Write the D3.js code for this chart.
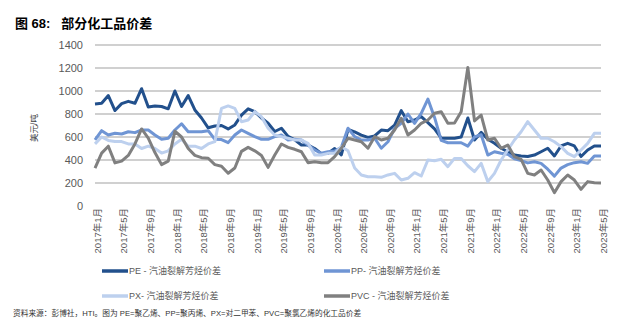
<!DOCTYPE html>
<html>
<head>
<meta charset="utf-8">
<script src="https://cdn.jsdelivr.net/npm/d3@7"></script>
<style>
  html, body { margin: 0; padding: 0; background: #fff; }
  svg { display: block; }
  text { font-family: "Liberation Sans", "Noto Sans CJK SC", sans-serif; }
</style>
</head>
<body>
<svg id="chart" width="626" height="335"></svg>
<script>
// Monthly spreads, USD/ton, Jan 2017 – May 2023
const months = d3.timeMonth.range(new Date(2017, 0, 1), new Date(2023, 5, 1))
  .map(d => d3.timeFormat("%Y-%m")(d));

const pe = [887, 893, 960, 830, 890, 910, 893, 1020, 860, 870, 865, 845,
  1000, 865, 960, 835, 765, 680, 696, 700, 670, 705, 790, 845,
  820, 765, 720, 648, 676, 605, 575, 530, 530, 500, 455, 458,
  500, 445, 665, 645, 617, 597, 609, 660, 655, 704, 829, 733,
  748, 777, 725, 670, 590, 589, 589, 600, 765, 574, 640, 580,
  545, 502, 472, 443, 435, 430, 443, 472, 502, 435, 522, 545,
  522, 430, 487, 522, 522];

const pp = [574, 655, 617, 632, 626, 646, 638, 661, 661, 617, 580, 589,
  661, 715, 646, 646, 646, 655, 580, 578, 551, 617, 661, 632,
  603, 580, 580, 603, 617, 574, 580, 574, 530, 487, 458, 472,
  478, 510, 676, 603, 574, 574, 589, 502, 559, 676, 719, 800,
  719, 806, 930, 770, 570, 550, 550, 550, 520, 600, 620, 443,
  472, 458, 450, 410, 395, 375, 385, 371, 320, 260, 330, 360,
  377, 385, 371, 435, 435];

const px = [540, 600, 570, 560, 560, 540, 540, 500, 520, 500, 460, 480,
  540, 580, 520, 520, 500, 540, 560, 849, 870, 849, 733, 748,
  820, 777, 676, 617, 603, 589, 574, 574, 545, 443, 443, 458,
  458, 516, 480, 330, 270, 255, 255, 249, 270, 284, 226, 241,
  290, 261, 400, 394, 406, 342, 414, 414, 350, 299, 371, 212,
  284, 400, 487, 574, 646, 733, 661, 589, 589, 559, 516, 458,
  429, 487, 545, 632, 632];

const pvc = [330, 460, 520, 375, 390, 440, 540, 670, 590, 465, 360, 390,
  650, 600, 500, 440, 420, 415, 360, 345, 285, 330, 475, 510,
  480, 440, 336, 443, 539, 510, 493, 472, 377, 385, 377, 377,
  429, 502, 589, 574, 559, 502, 603, 574, 589, 661, 763, 617,
  661, 719, 748, 806, 820, 719, 722, 820, 1205, 740, 791, 574,
  589, 502, 530, 429, 406, 284, 270, 313, 226, 116, 212, 270,
  226, 145, 212, 203, 200];

const xTicks = ["2017-01", "2017-05", "2017-09", "2018-01", "2018-05", "2018-09",
  "2019-01", "2019-05", "2019-09", "2020-01", "2020-05", "2020-09",
  "2021-01", "2021-05", "2021-09", "2022-01", "2022-05", "2022-09",
  "2023-01", "2023-05"];
const yTicks = [0, 200, 400, 600, 800, 1000, 1200, 1400];

const series = [
  { name: "PE - 汽油裂解芳烃价差", values: pe, color: "#22508c" },
  { name: "PP- 汽油裂解芳烃价差", values: pp, color: "#6f95d4" },
  { name: "PX- 汽油裂解芳烃价差", values: px, color: "#bdd0ee" },
  { name: "PVC - 汽油裂解芳烃价差", values: pvc, color: "#808080" }
];

const svg = d3.select("#chart");
svg.append("rect").attr("width", 626).attr("height", 335).attr("fill", "#fff");

const x = d3.scalePoint().domain(months).range([95, 601]);
const y = d3.scaleLinear().domain([0, 1400]).range([206, 45]);

// Title
svg.append("text")
  .attr("x", 15).attr("y", 28)
  .style("white-space", "pre")
  .attr("font-size", 13).attr("font-weight", "bold").attr("fill", "#000")
  .text("图 68:   部分化工品价差");

// Horizontal gridlines
svg.append("g").selectAll("line")
  .data(yTicks.filter(v => v > 0))
  .join("line")
  .attr("x1", 95).attr("x2", 601)
  .attr("y1", d => y(d)).attr("y2", d => y(d))
  .attr("stroke", "#c0c0c0").attr("stroke-width", 1.6);

// Y axis labels
const yAxis = d3.axisLeft(y).tickValues(yTicks).tickSize(0).tickPadding(0)
  .tickFormat(d3.format("d"));
const gy = svg.append("g").attr("transform", "translate(83,0)").call(yAxis);
gy.select(".domain").remove();
gy.selectAll("text")
  .attr("font-size", 11).attr("fill", "#595959")
  .attr("font-family", "Liberation Sans, sans-serif");

// Y axis title
svg.append("text")
  .attr("transform", "translate(34,128) rotate(-90)")
  .attr("text-anchor", "middle").attr("dy", "0.35em")
  .attr("font-size", 8.5).attr("fill", "#404040")
  .text("美元/吨");

// X axis labels (vertical)
const fmtLabel = s => {
  const [yy, mm] = s.split("-");
  return `${yy}年${+mm}月`;
};
const xAxis = d3.axisBottom(x).tickValues(xTicks).tickSize(0).tickPadding(0).tickFormat(fmtLabel);
const gx = svg.append("g").attr("transform", "translate(2,208)").call(xAxis);
gx.select(".domain").remove();
gx.selectAll("text")
  .attr("font-size", 9.5).attr("fill", "#595959")
  .attr("text-anchor", "end")
  .attr("transform", "rotate(-90)")
  .attr("x", 0).attr("y", 0).attr("dy", "0.35em");

// Series lines
const line = d3.line()
  .x((d, i) => x(months[i]))
  .y(d => y(d));

svg.append("g").selectAll("path")
  .data(series)
  .join("path")
  .attr("d", d => line(d.values))
  .attr("fill", "none")
  .attr("stroke", d => d.color)
  .attr("stroke-width", 3)
  .attr("stroke-linejoin", "round");

// Legend
const legendPos = [
  { x: 102, y: 271 }, { x: 324, y: 271 },
  { x: 102, y: 296 }, { x: 324, y: 296 }
];
const lg = svg.append("g").selectAll("g")
  .data(series)
  .join("g")
  .attr("transform", (d, i) => `translate(${legendPos[i].x},${legendPos[i].y})`);
lg.append("line")
  .attr("x1", 0).attr("x2", 26).attr("y1", 0).attr("y2", 0)
  .attr("stroke", d => d.color).attr("stroke-width", 3.5);
lg.append("text")
  .attr("x", 27).attr("dy", "0.35em")
  .attr("font-size", 9).attr("fill", "#595959")
  .text(d => d.name);

// Source note
svg.append("text")
  .attr("x", 13).attr("y", 313).attr("dy", "0.35em")
  .attr("font-size", 7.7).attr("fill", "#333")
  .text("资料来源：彭博社，HTI。图为 PE=聚乙烯、PP=聚丙烯、PX=对二甲苯、PVC=聚氯乙烯的化工品价差");
</script>
</body>
</html>
